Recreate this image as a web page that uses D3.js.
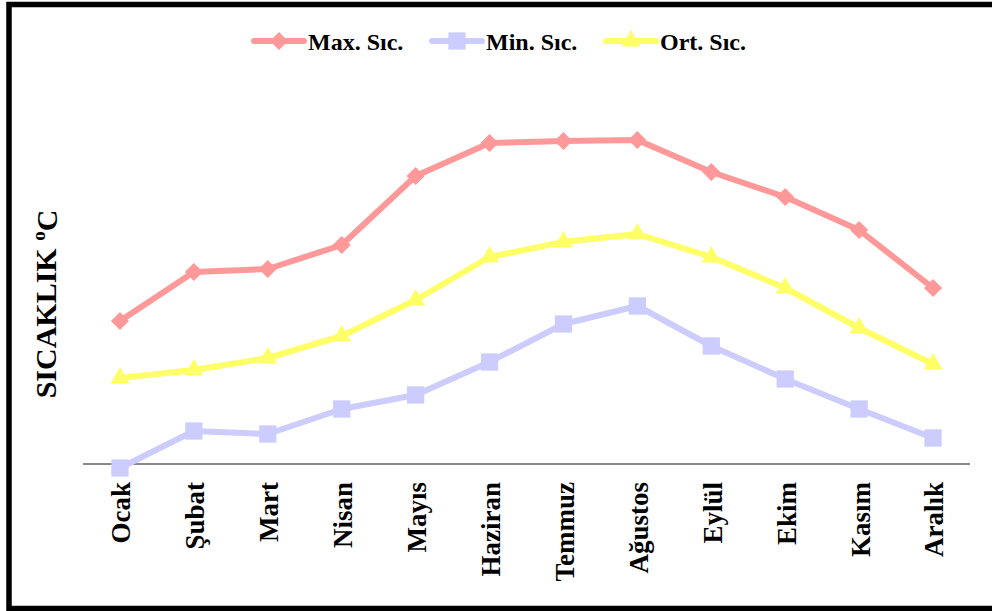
<!DOCTYPE html>
<html>
<head>
<meta charset="utf-8">
<script src="https://cdn.jsdelivr.net/npm/d3@7/dist/d3.min.js"></script>
<style>
  html, body { margin: 0; padding: 0; background: #fff; }
  svg { display: block; }
</style>
</head>
<body>
<svg id="chart" width="992" height="611"></svg>
<script>
// Monthly temperatures (°C)
const months = ["Ocak", "Şubat", "Mart", "Nisan", "Mayıs", "Haziran",
                "Temmuz", "Ağustos", "Eylül", "Ekim", "Kasım", "Aralık"];
const maxTemp = [14.4, 19.3, 19.6, 22.0, 28.9, 32.2, 32.4, 32.5, 29.3, 26.8, 23.5, 17.7];
const minTemp = [-0.3, 3.4, 3.1, 5.6, 7.0, 10.3, 14.1, 15.9, 11.9, 8.6, 5.6, 2.7];
const avgTemp = [8.7, 9.5, 10.7, 12.9, 16.5, 20.8, 22.3, 23.1, 20.8, 17.7, 13.7, 10.1];
const seriesNames = ["Max. Sıc.", "Min. Sıc.", "Ort. Sıc."];
const axisTitle = "SICAKLIK";
const axisUnit = "C";

const series = [
  { name: seriesNames[0], values: maxTemp, color: "#ff9999", symbol: d3.symbolDiamond2 },
  { name: seriesNames[1], values: minTemp, color: "#ccccff", symbol: d3.symbolSquare2 },
  { name: seriesNames[2], values: avgTemp, color: "#ffff66", symbol: d3.symbolTriangle2 }
];

const svg = d3.select("#chart");
const font = "'Liberation Serif', 'Times New Roman', serif";

// Outer frame
svg.append("rect")
  .attr("x", 9).attr("y", 4.5)
  .attr("width", 992).attr("height", 604)
  .attr("fill", "#fff").attr("stroke", "#000").attr("stroke-width", 5.5);

const x = d3.scalePoint().domain(months).range([83, 970]).padding(0.5);
const y = d3.scaleLinear().domain([0, 35]).range([465, 115]);

// Category axis line
svg.append("line")
  .attr("x1", 83).attr("x2", 970)
  .attr("y1", 464).attr("y2", 464)
  .attr("stroke", "#888").attr("stroke-width", 2);

// Month labels (rotated)
svg.append("g").selectAll("text")
  .data(months).join("text")
  .attr("transform", d => `translate(${x(d) + 1},482) rotate(-90)`)
  .attr("text-anchor", "end")
  .attr("dy", "0.35em")
  .attr("font-family", font).attr("font-weight", "bold").attr("font-size", 27)
  .attr("fill", "#000")
  .text(d => d);

// Y axis title
const yt = svg.append("text")
  .attr("transform", "translate(45,304) rotate(-90)")
  .attr("text-anchor", "middle")
  .attr("dy", "0.35em")
  .attr("font-family", font).attr("font-weight", "bold").attr("font-size", 30)
  .attr("fill", "#000");
yt.append("tspan").text(axisTitle + " ");
yt.append("tspan").attr("font-size", 19).attr("dy", "-0.55em").text("o");
yt.append("tspan").attr("dy", "0.4em").text(axisUnit);

const line = d3.line().x((d, i) => x(months[i])).y(d => y(d));
const symSize = { [seriesNames[0]]: 210, [seriesNames[1]]: 380, [seriesNames[2]]: 260 };

series.forEach(s => {
  svg.append("path")
    .attr("d", line(s.values))
    .attr("fill", "none").attr("stroke", s.color)
    .attr("stroke-width", 6).attr("stroke-linejoin", "round").attr("stroke-linecap", "round");
  svg.append("g").selectAll("path")
    .data(s.values).join("path")
    .attr("transform", (d, i) => `translate(${x(months[i])},${y(d)})`)
    .attr("d", d3.symbol().type(s.symbol).size(symSize[s.name]))
    .attr("fill", s.color);
});

// Legend
const legendX = [254, 432, 606];
const leg = svg.append("g");
series.forEach((s, i) => {
  const g = leg.append("g").attr("transform", `translate(${legendX[i]},41)`);
  g.append("line").attr("x1", 0).attr("x2", 50)
    .attr("stroke", s.color).attr("stroke-width", 6).attr("stroke-linecap", "round");
  g.append("path").attr("transform", "translate(25,0)")
    .attr("d", d3.symbol().type(s.symbol).size(symSize[s.name]))
    .attr("fill", s.color);
  g.append("text").attr("x", 54).attr("y", 9)
    .attr("font-family", font).attr("font-weight", "bold").attr("font-size", 24)
    .attr("fill", "#000").text(s.name);
});
</script>
</body>
</html>
